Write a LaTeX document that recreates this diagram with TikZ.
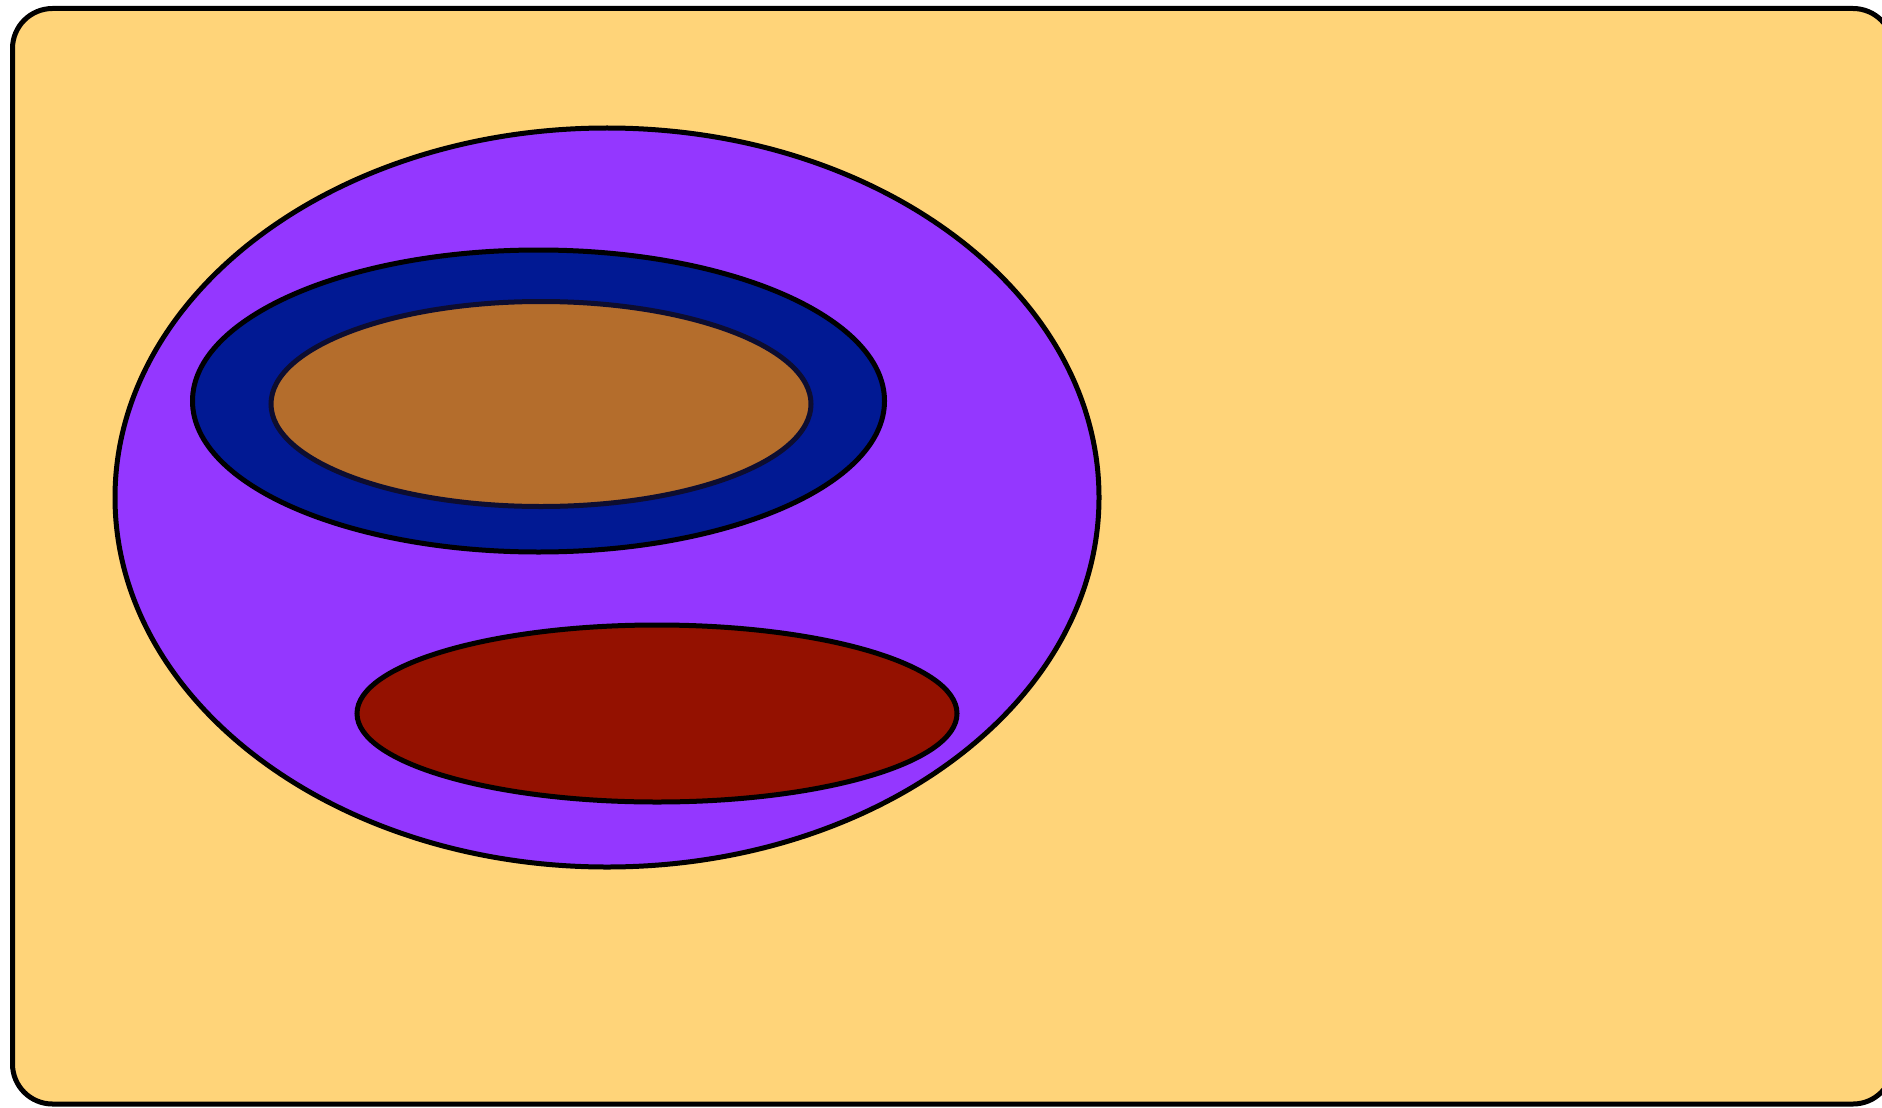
\documentclass[tikz,border=0pt]{standalone}
\definecolor{cantaloupe}{HTML}{FFD479}
\definecolor{grape}{HTML}{9437FF}
\definecolor{midnight}{HTML}{011993}
\definecolor{mocha}{HTML}{B46D2C}
\definecolor{cayenne}{HTML}{941100}
\definecolor{navyline}{HTML}{0D0D30}
\begin{document}
\begin{tikzpicture}[x=0.5pt,y=-0.5pt,
  outl/.style={draw=black,line width=2.5pt}]
\useasboundingbox (0,0) rectangle (1882,1107);
\clip (0,0) rectangle (1882,1107);
\fill[white] (0,0) rectangle (1882,1107);
% card
\draw[outl,fill=cantaloupe,rounded corners=20pt] (12.5,8.5) rectangle (1893,1104);
% big purple ellipse
\draw[outl,fill=grape] (607,497.5) ellipse [x radius=492, y radius=369.5];
% dark blue ring
\draw[outl,fill=midnight] (538.5,401) ellipse [x radius=346, y radius=151];
% brown inner
\draw[draw=navyline,line width=2.5pt,fill=mocha] (541,404) ellipse [x radius=270, y radius=102.5];
% red ellipse
\draw[outl,fill=cayenne] (657,713.5) ellipse [x radius=300, y radius=88.5];
\end{tikzpicture}
\end{document}
